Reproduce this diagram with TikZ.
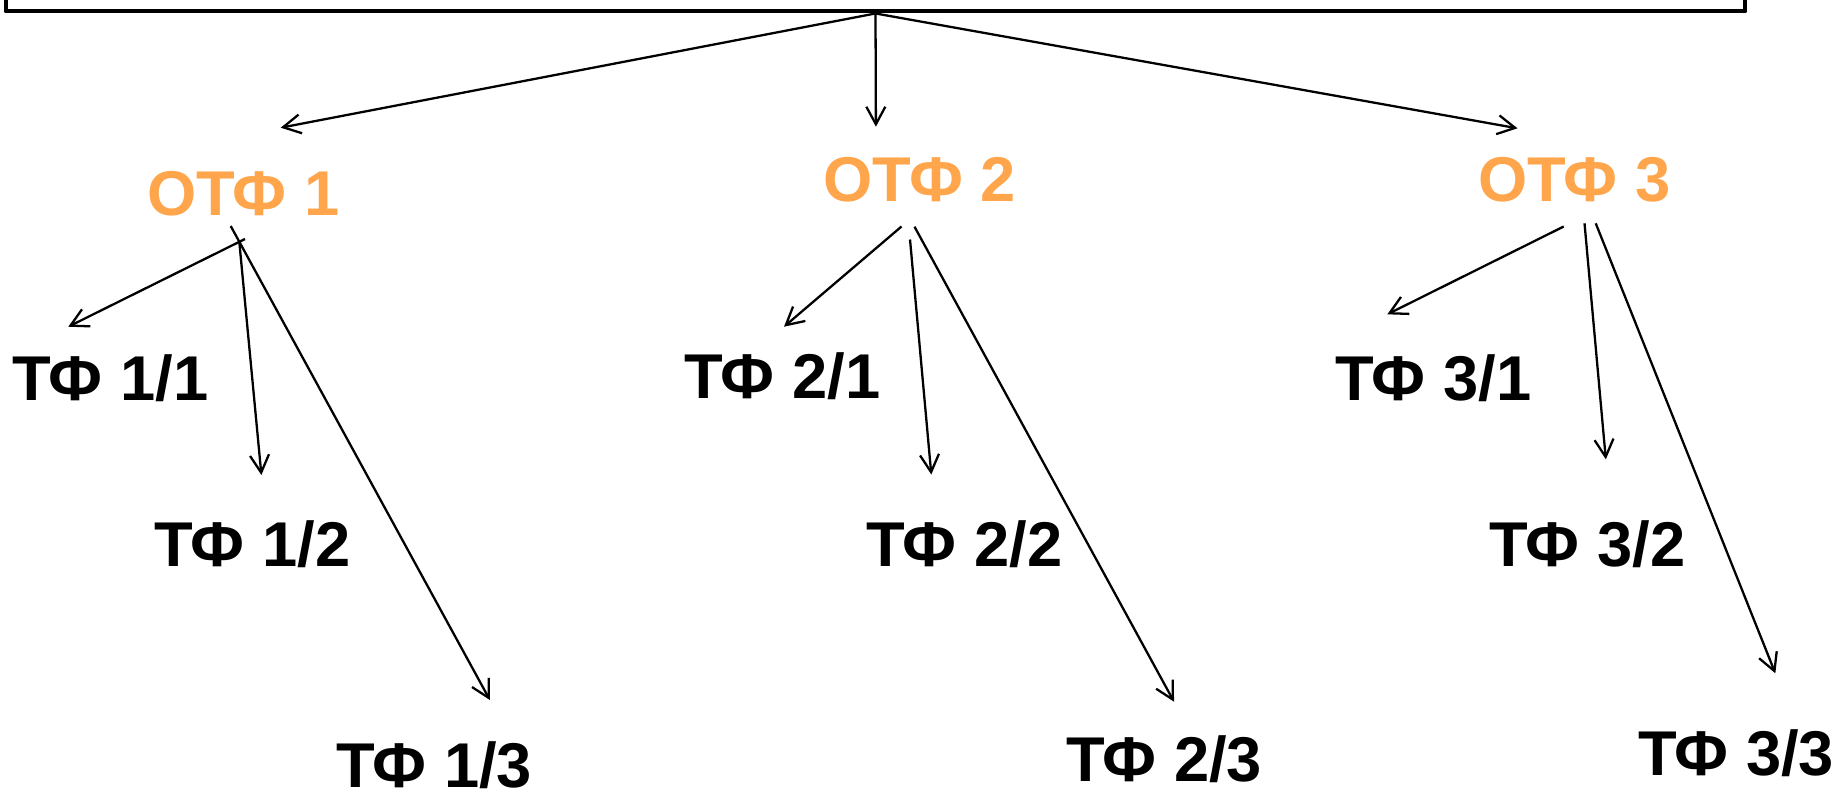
\documentclass[tikz,border=0pt]{standalone}
\usepackage{fontspec}
\setmainfont{Liberation Sans}
\usetikzlibrary{arrows.meta}
\definecolor{otforange}{RGB}{255,165,75}

\begin{document}
\begin{tikzpicture}[
		>={Straight Barb[length=5pt,width=5.4pt]},
		conn/.style={->,line width=0.65pt},
		otf/.style={anchor=base west,inner sep=0pt,text=otforange,font=\fontsize{18}{21}\selectfont\bfseries},
		tf/.style={anchor=base west,inner sep=0pt,font=\fontsize{18}{21}\selectfont\bfseries}]
		\useasboundingbox (0,-7.96) rectangle (18.37,0);
		
		\node[draw,line width=1.4pt,line join=round,minimum width=17.39cm,minimum height=1cm,inner sep=0pt] (src) at (8.755,0.39) {};
		
		\node[otf] (otf1) at (1.465,-2.15) {ОТФ 1};
		\node[otf] (otf2) at (8.23,-2.015) {ОТФ 2};
		\node[otf] (otf3) at (14.775,-2.015) {ОТФ 3};
		
		\node[tf] (tf11) at (0.12,-4.00) {ТФ 1/1};
		\node[tf] (tf12) at (1.54,-5.667) {ТФ 1/2};
		\node[tf] (tf13) at (3.355,-7.87) {ТФ 1/3};
		\node[tf] (tf21) at (6.84,-3.98) {ТФ 2/1};
		\node[tf] (tf22) at (8.66,-5.66) {ТФ 2/2};
		\node[tf] (tf23) at (10.655,-7.817) {ТФ 2/3};
		\node[tf] (tf31) at (13.35,-4.00) {ТФ 3/1};
		\node[tf] (tf32) at (14.89,-5.667) {ТФ 3/2};
		\node[tf] (tf33) at (16.375,-7.75) {ТФ 3/3};
		
		\draw[conn] (src.south) -- ([xshift=1.342cm,yshift=0.873cm]otf1.base west);
		\draw[conn] (src.south) -- ([xshift=0.529cm,yshift=0.748cm]otf2.base west);
		\draw[conn] (src.south) -- ([xshift=0.40cm,yshift=0.732cm]otf3.base west);
		
		\draw[conn] ([xshift=0.985cm,yshift=-0.24cm]otf1.base west) -- ([xshift=0.563cm,yshift=0.733cm]tf11.base west);
		\draw[conn] ([xshift=0.928cm,yshift=-0.267cm]otf1.base west) -- ([xshift=1.074cm,yshift=0.917cm]tf12.base west);
		\draw[conn] ([xshift=0.842cm,yshift=-0.11cm]otf1.base west) -- ([xshift=1.544cm,yshift=0.87cm]tf13.base west);
		
		\draw[conn] ([xshift=0.785cm,yshift=-0.25cm]otf2.base west) -- ([xshift=1.0cm,yshift=0.713cm]tf21.base west);
		\draw[conn] ([xshift=0.87cm,yshift=-0.38cm]otf2.base west) -- ([xshift=0.653cm,yshift=0.915cm]tf22.base west);
		\draw[conn] ([xshift=0.915cm,yshift=-0.252cm]otf2.base west) -- ([xshift=1.085cm,yshift=0.80cm]tf23.base west);
		
		\draw[conn] ([xshift=0.862cm,yshift=-0.25cm]otf3.base west) -- ([xshift=0.523cm,yshift=0.857cm]tf31.base west);
		\draw[conn] ([xshift=1.07cm,yshift=-0.218cm]otf3.base west) -- ([xshift=1.168cm,yshift=1.074cm]tf32.base west);
		\draw[conn] ([xshift=1.182cm,yshift=-0.218cm]otf3.base west) -- ([xshift=1.378cm,yshift=1.017cm]tf33.base west);
		
	\end{tikzpicture}
\end{document}
